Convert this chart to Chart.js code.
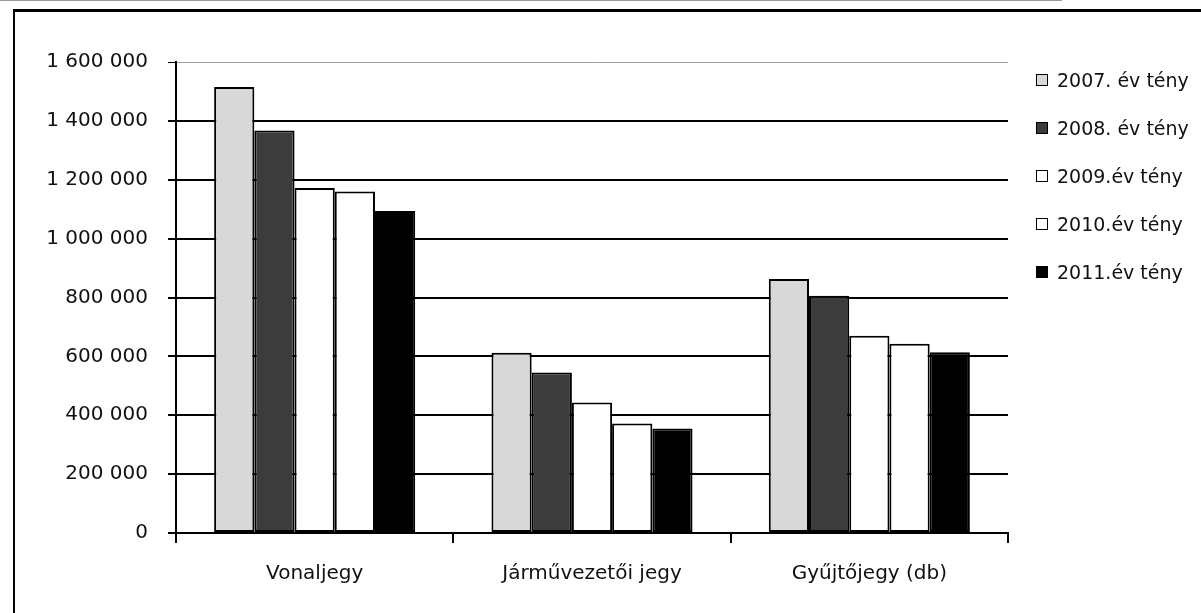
<!DOCTYPE html>
<html lang="hu">
<head>
<meta charset="utf-8">
<title>Jegyértékesítés 2007-2011</title>
<script src="https://cdn.jsdelivr.net/npm/chart.js@4/dist/chart.umd.min.js"></script>
<style>
  html, body { margin: 0; padding: 0; background: #fff; }
  #wrap { position: relative; width: 1201px; height: 613px; overflow: hidden; }
  #topline { position: absolute; left: 0; top: 0; width: 1062px; height: 1px; background: #9a9a9a; }
  #frame { position: absolute; left: 13px; top: 9px; width: 1300px; height: 700px;
           border-top: 3px solid #000; border-left: 2px solid #000; }
  #myChart { position: absolute; left: 0; top: 0; }
  #legend { position: absolute; left: 1036px; top: 56px; font-family: 'DejaVu Sans', sans-serif;
            font-size: 19px; color: #111; }
  #legend .item { height: 48px; display: flex; align-items: center; white-space: nowrap; }
  #legend .box { width: 10px; height: 10px; border: 1px solid #000; margin-right: 9px; }
</style>
</head>
<body>
<div id="wrap">
  <div id="topline"></div>
  <div id="frame"></div>
  <canvas id="myChart" width="1201" height="613"></canvas>
  <div id="legend"></div>
</div>
<script>
// Adatok
const kategoriak = ['Vonaljegy', 'Járművezetői jegy', 'Gyűjtőjegy (db)'];
const evek = ['2007. év tény', '2008. év tény', '2009.év tény', '2010.év tény', '2011.év tény'];
const ev2007 = [1515000, 612000, 863000];
const ev2008 = [1367000, 545000, 806000];
const ev2009 = [1172000, 443000, 670000];
const ev2010 = [1160000, 372000, 643000];
const ev2011 = [1094000, 355000, 614000];
const yMax = 1600000;
const yLepes = 200000;

const szinek = ['#d8d8d8', '#3c3c3c', '#ffffff', '#ffffff', '#000000'];
const sorok = [ev2007, ev2008, ev2009, ev2010, ev2011];

function ezres(v) {
    return String(v).replace(/\B(?=(\d{3})+(?!\d))/g, ' ');
}

// HTML jelmagyarázat
const htmlLegend = {
    id: 'htmlLegend',
    afterUpdate(chart) {
        const el = document.getElementById('legend');
        el.innerHTML = '';
        chart.data.datasets.forEach(ds => {
            const row = document.createElement('div');
            row.className = 'item';
            const box = document.createElement('span');
            box.className = 'box';
            box.style.background = ds.backgroundColor;
            const txt = document.createElement('span');
            txt.textContent = ds.label;
            row.appendChild(box);
            row.appendChild(txt);
            el.appendChild(row);
        });
    }
};

Chart.defaults.font.family = "'DejaVu Sans', sans-serif";
Chart.defaults.font.size = 20;
Chart.defaults.color = '#111';

const ctx = document.getElementById('myChart').getContext('2d');
const myChart = new Chart(ctx, {
    type: 'bar',
    data: {
        labels: kategoriak,
        datasets: evek.map((ev, i) => ({
            label: ev,
            data: sorok[i],
            backgroundColor: szinek[i],
            borderColor: '#000',
            borderWidth: 2,
            borderSkipped: false,
            categoryPercentage: 0.725,
            barPercentage: 1
        }))
    },
    options: {
        responsive: false,
        animation: false,
        layout: { padding: { left: 0, top: 62, right: 193, bottom: 0 } },
        plugins: {
            legend: { display: false },
            tooltip: { enabled: false }
        },
        scales: {
            x: {
                grid: {
                    offset: true,
                    drawOnChartArea: false,
                    drawTicks: true,
                    tickLength: 10,
                    color: '#000',
                    lineWidth: 2
                },
                border: { color: '#000', width: 2 },
                ticks: { padding: 19, color: '#111' },
                afterFit(scale) { scale.height = 80; }
            },
            y: {
                min: 0,
                max: yMax,
                ticks: {
                    stepSize: yLepes,
                    padding: 20,
                    color: '#111',
                    callback: v => ezres(v)
                },
                grid: {
                    color: c => c.tick && c.tick.value === yMax ? '#a0a0a0' : '#000',
                    lineWidth: c => c.tick && c.tick.value === yMax ? 1 : 2,
                    tickColor: '#000',
                    tickLength: 8
                },
                border: { color: '#000', width: 2 },
                afterFit(scale) { scale.width = 176; }
            }
        }
    },
    plugins: [htmlLegend]
});
</script>
</body>
</html>
